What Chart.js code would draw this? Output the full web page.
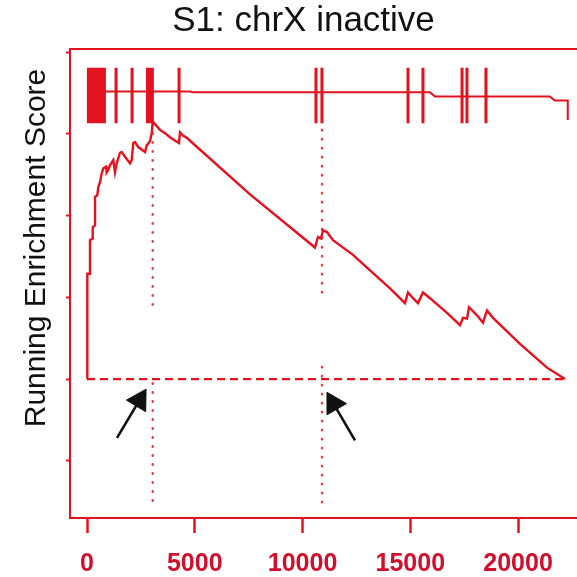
<!DOCTYPE html>
<html>
<head>
<meta charset="utf-8">
<script src="https://cdn.jsdelivr.net/npm/chart.js@4.4.1/dist/chart.umd.min.js"></script>
<style>
  html, body { margin: 0; padding: 0; background: #fff; overflow: hidden; }
  #wrap { width: 577px; height: 577px; overflow: hidden; }
  canvas { display: block; }
</style>
</head>
<body>
<div id="wrap"><canvas id="c" width="591" height="577" style="width:591px;height:577px"></canvas></div>
<script>
// ── Data ─────────────────────────────────────────────────────
const xTicks = [0, 5000, 10000, 15000, 20000];
const yTicks = [-0.1, 0, 0.1, 0.2, 0.3, 0.4];

// running enrichment score
const esX = [0, 14, 139, 139, 265, 265, 372, 372, 478, 524,
  604, 682, 756, 882, 914, 988, 1067, 1220, 1299, 1378,
  1531, 1610, 1763, 1995, 2074, 2148, 2227, 2380, 2692, 2770,
  2923, 3002, 3039, 3062, 3387, 3619, 3851, 4129, 4268, 4315,
  4455, 4640, 7563, 10579, 10718, 10857, 10950, 11136, 11413, 12342,
  13131, 14058, 14755, 14894, 15126, 15358, 15590, 15914, 16703, 17307,
  17446, 17632, 17724, 18096, 18374, 18559, 18838, 20091, 21343, 22179];
const esY = [0, 0.129, 0.129, 0.170, 0.172, 0.186, 0.188, 0.223, 0.225, 0.235,
  0.241, 0.252, 0.258, 0.260, 0.253, 0.256, 0.262, 0.268, 0.253, 0.264,
  0.277, 0.278, 0.272, 0.264, 0.268, 0.289, 0.290, 0.284, 0.278, 0.286,
  0.291, 0.301, 0.312, 0.315, 0.305, 0.301, 0.296, 0.291, 0.289, 0.302,
  0.298, 0.295, 0.226, 0.161, 0.174, 0.172, 0.182, 0.180, 0.170, 0.152,
  0.133, 0.111, 0.093, 0.106, 0.099, 0.093, 0.106, 0.099, 0.081, 0.066,
  0.075, 0.074, 0.088, 0.078, 0.069, 0.084, 0.075, 0.043, 0.014, 0];

// hit positions (barcode) and its band
const hitsX = [64, 114, 164, 213, 263, 312, 362, 411, 461, 510, 560, 609, 659, 709, 758, 808,
  1348, 2091, 2805, 2854, 2904, 2953, 3003, 3032, 4271,
  10624, 10901, 14895, 15588, 17402, 17630, 18512];
const hitBand = [0.381, 0.313];

// thin line through the barcode band
const metricX = [0, 4777, 4915, 15906, 16143, 21475, 21703, 22307, 22307];
const metricY = [0.352, 0.352, 0.351, 0.351, 0.346, 0.346, 0.341, 0.341, 0.317];

// zero line
const zeroX = [0, 22179];

// dotted markers: x, upper segment [top, bottom], lower segment [top, bottom]
const markX = [3048, 10904];
const markUpper = [[0.312, 0.082], [0.305, 0.105]];
const markLower = [[-0.005, -0.151], [0.015, -0.151]];

// arrows: tail and head centre, head rotation (deg)
const arrowTail = [[1392, -0.072], [12435, -0.075]];
const arrowHead = [[2431, -0.026], [11437, -0.030]];
const arrowRot = [31, -30];

// ── Styles ───────────────────────────────────────────────────
const RED = '#e3121e';
const RED_LBL = '#cf0f2c';
const FONT = '"Liberation Sans", Arial, sans-serif';

const pts = (xs, ys) => xs.map((x, i) => ({ x, y: ys[i] }));

const hitData = hitsX.flatMap(x => [{ x, y: hitBand[0] }, { x, y: hitBand[1] }, { x, y: null }]);
const markData = markX.flatMap((x, i) => [
  { x, y: markUpper[i][0] }, { x, y: markUpper[i][1] }, { x, y: null },
  { x, y: markLower[i][0] }, { x, y: markLower[i][1] }, { x, y: null },
]);
const arrowData = arrowTail.flatMap((t, i) => [
  { x: t[0], y: t[1] }, { x: arrowHead[i][0], y: arrowHead[i][1] }, { x: t[0], y: null },
]);
const headData = arrowHead.map(h => ({ x: h[0], y: h[1] }));

const yLabel = {
  id: 'yLabel',
  afterDraw(chart) {
    const ctx = chart.ctx;
    ctx.save();
    ctx.translate(37, 248);
    ctx.rotate(-Math.PI / 2);
    ctx.font = `30px ${FONT}`;
    ctx.fillStyle = '#111';
    ctx.textAlign = 'center';
    ctx.textBaseline = 'middle';
    ctx.fillText('Running Enrichment Score', 0, 0);
    ctx.restore();
  }
};

new Chart(document.getElementById('c'), {
  type: 'line',
  data: {
    datasets: [
      { data: pts(esX, esY), borderColor: RED, borderWidth: 2.4, pointRadius: 0, tension: 0 },
      { data: hitData, borderColor: RED, borderWidth: 3, pointRadius: 0, spanGaps: false },
      { data: pts(metricX, metricY), borderColor: RED, borderWidth: 2, pointRadius: 0 },
      { data: zeroX.map(x => ({ x, y: 0 })), borderColor: RED, borderWidth: 2.2, borderDash: [8, 5], pointRadius: 0 },
      { data: markData, borderColor: '#ea3a40', borderWidth: 2.4, borderDash: [0.5, 8.5], borderCapStyle: 'round', pointRadius: 0, spanGaps: false },
      { data: arrowData, borderColor: '#111', borderWidth: 2.6, pointRadius: 0, spanGaps: false },
      { data: headData, showLine: false, pointStyle: 'triangle', pointRadius: 13, rotation: arrowRot,
        backgroundColor: '#111', borderColor: '#111', borderWidth: 1 },
    ]
  },
  options: {
    responsive: false,
    animation: false,
    events: [],
    layout: { padding: { left: 16, right: 0, top: 0, bottom: 0 } },
    plugins: {
      legend: { display: false },
      tooltip: { enabled: false },
      title: {
        display: true,
        text: 'S1: chrX inactive',
        color: '#111',
        font: { family: FONT, size: 35, weight: 'normal', lineHeight: 1.2 },
        padding: { top: 0, bottom: 7 },
      },
    },
    scales: {
      x: {
        type: 'linear', position: 'bottom', min: -789, max: 22736,
        afterBuildTicks: s => { s.ticks = xTicks.map(v => ({ value: v })); },
        afterFit: s => { s.height = 59; },
        border: { display: true, color: RED, width: 2 },
        grid: { drawOnChartArea: false, color: RED, tickColor: RED, tickLength: 15, tickWidth: 2.5 },
        ticks: { color: RED_LBL, padding: 16, maxRotation: 0, autoSkip: false,
          font: { family: FONT, size: 25, weight: 'bold' }, callback: v => String(v) },
      },
      xTop: {
        type: 'linear', position: 'top', min: -789, max: 22736,
        afterFit: s => { s.height = 0; },
        border: { display: true, color: RED, width: 2 },
        grid: { display: false },
        ticks: { display: false },
      },
      y: {
        type: 'linear', min: -0.17, max: 0.404,
        afterBuildTicks: s => { s.ticks = yTicks.map(v => ({ value: v })); },
        afterFit: s => { s.width = 54; },
        border: { display: true, color: RED, width: 2 },
        grid: { drawOnChartArea: false, color: RED, tickColor: RED, tickLength: 4, tickWidth: 2 },
        ticks: { display: false },
      },
    },
  },
  plugins: [yLabel],
});
</script>
</body>
</html>
